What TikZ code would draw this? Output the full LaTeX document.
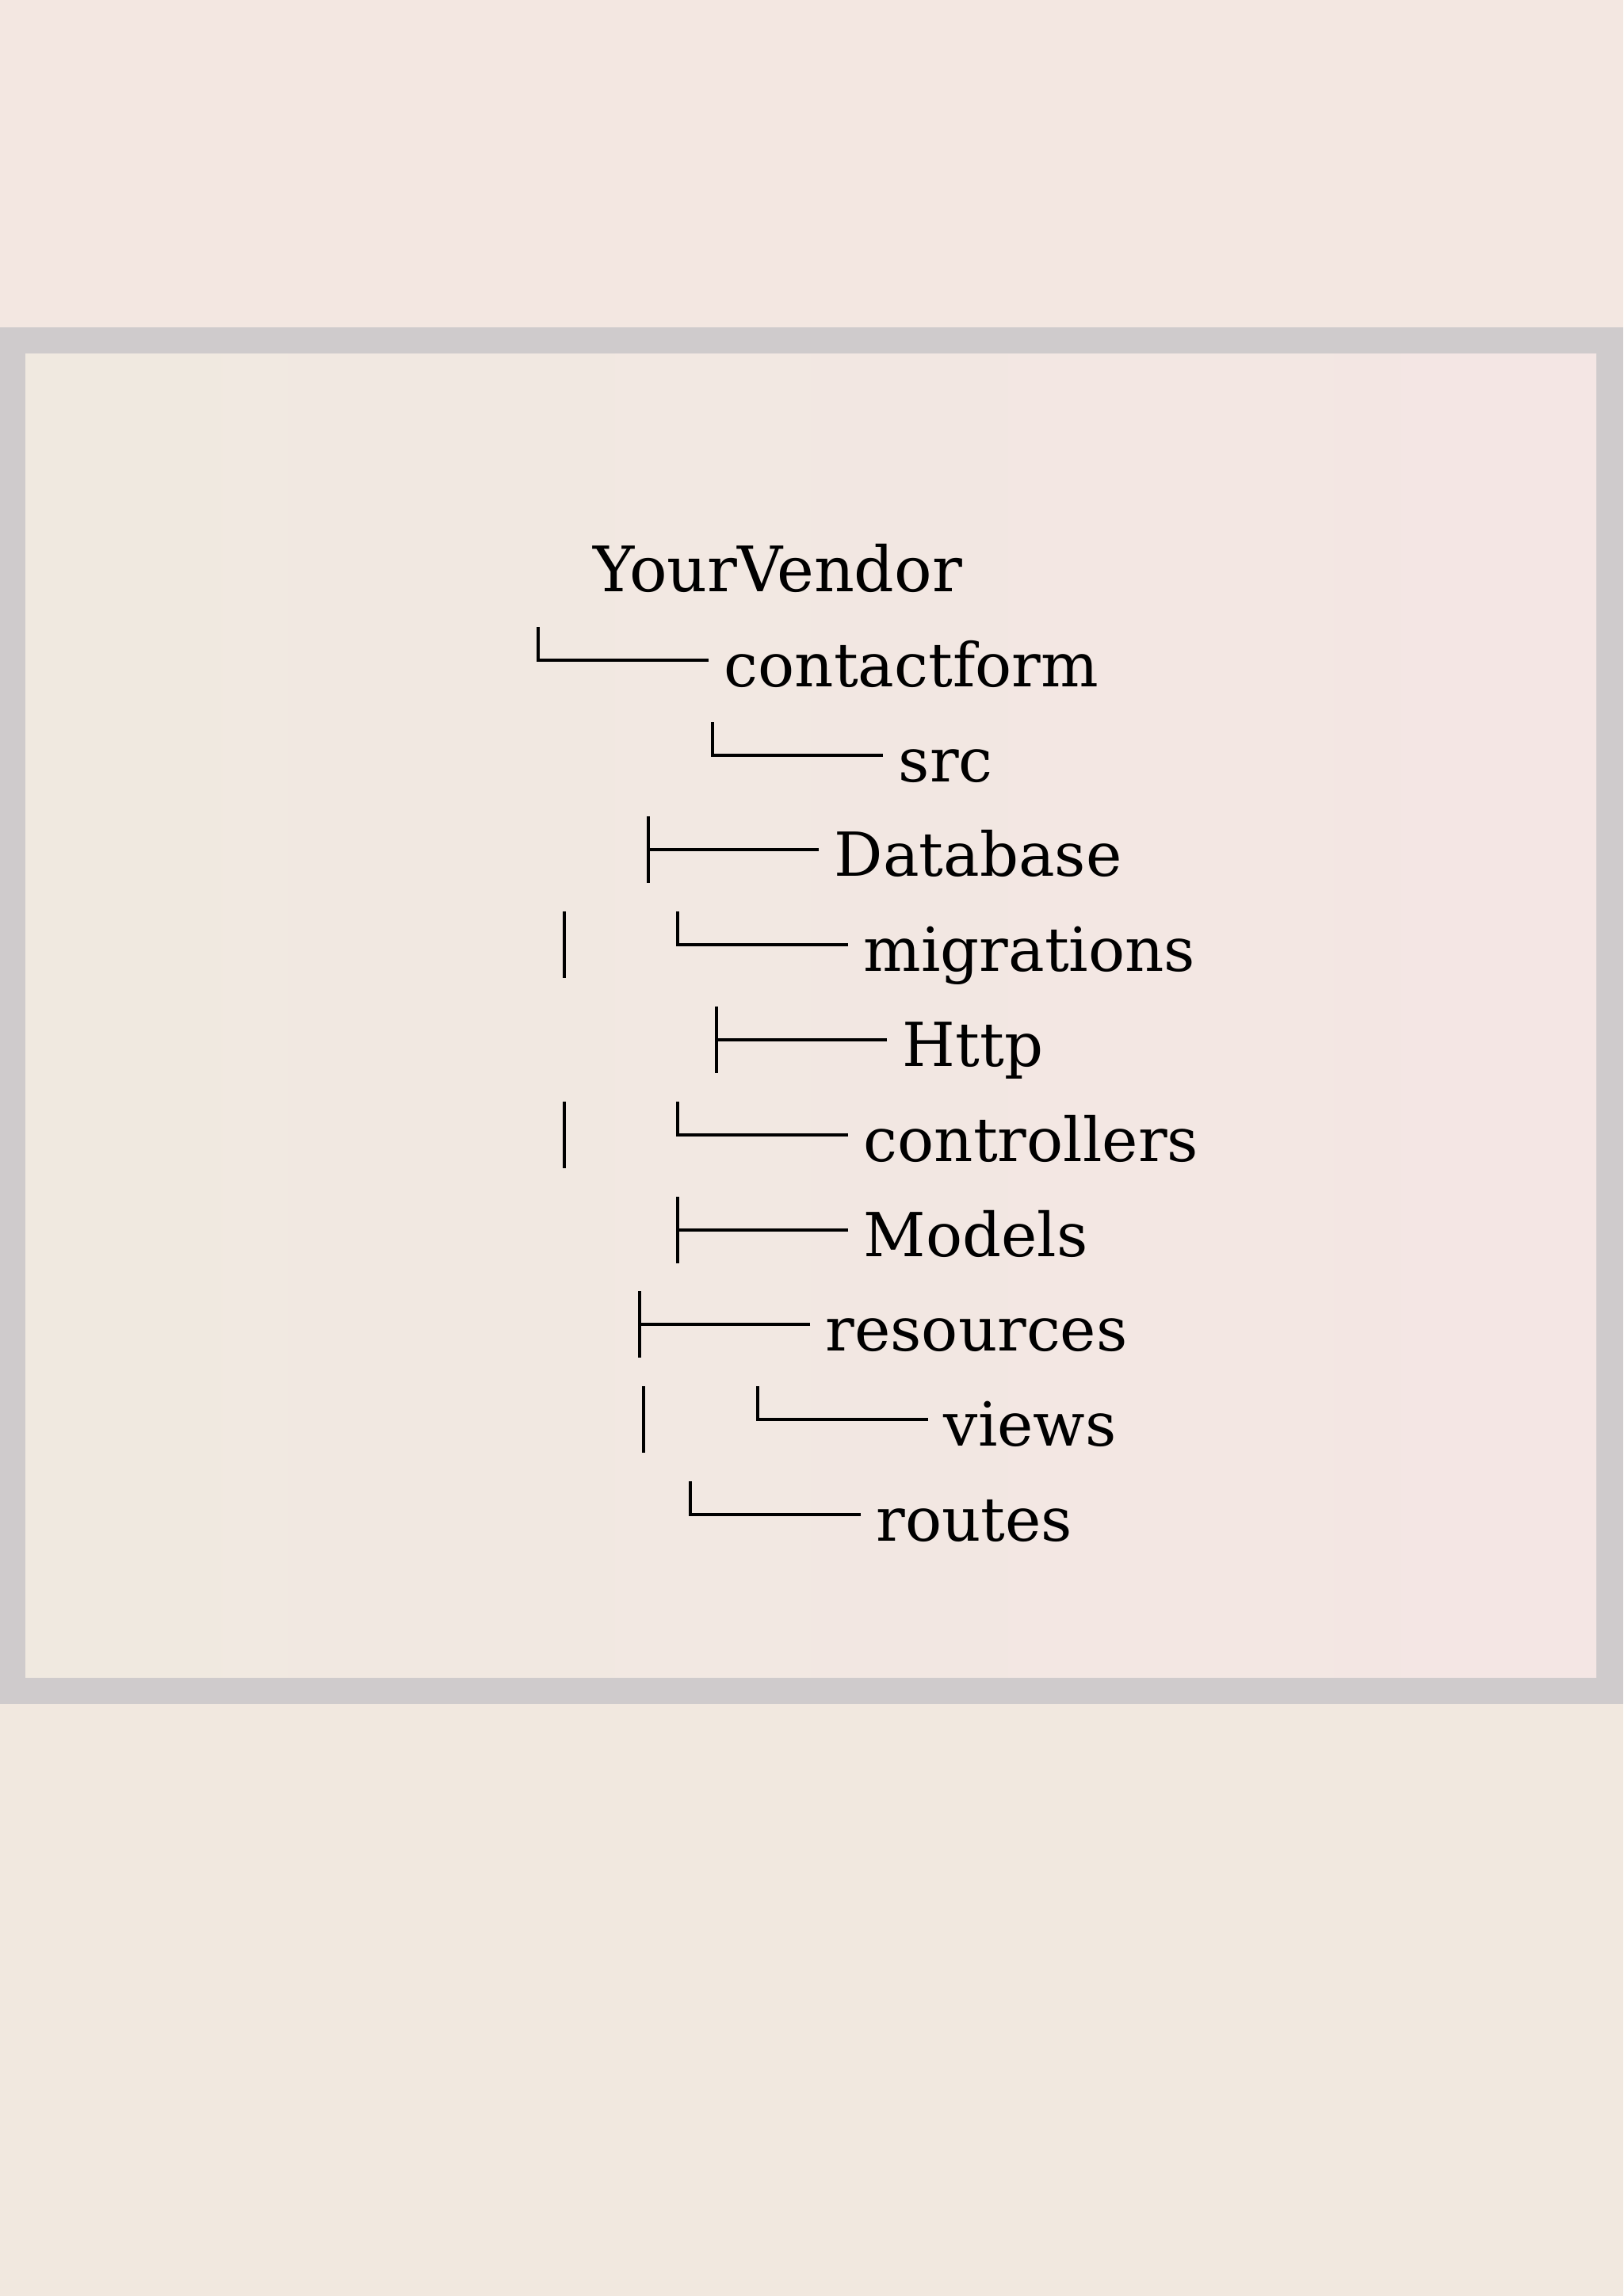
\documentclass[tikz,border=0pt]{standalone}
\usepackage{fontspec}
\setmainfont{DejaVu Serif}
\usepackage{tikz}

\definecolor{paper}{HTML}{F1E8DF}
\definecolor{paperpink}{HTML}{F3E7E1}
\definecolor{framegray}{HTML}{CFCBCC}
\definecolor{boxleft}{HTML}{F0E9E0}
\definecolor{boxright}{HTML}{F4E6E4}

\tikzset{
  tree/.style={black, line width=1pt},
  dir/.style={anchor=base west, inner sep=0pt, text height=0.76cm, text depth=0.1cm,
    font=\fontsize{21.8pt}{26pt}\selectfont}
}

\begin{document}
\begin{tikzpicture}
\useasboundingbox (0,0) rectangle (20.48,-28.97);
% page and frame
\fill [paper] (0,0) rectangle (20.48,-28.97);
\fill [paperpink] (0,0) rectangle (20.48,-4.13);
\fill [framegray] (0,-4.13) rectangle (20.48,-21.50);
\shade [left color=boxleft, right color=boxright] (0.32,-4.46) rectangle (20.14,-21.16);

% folders
\node [dir, font=\fontsize{22.5pt}{26pt}\selectfont] (vendor) at (7.48,-7.46) {YourVendor};
\node [dir] (contactform) at (9.13,-8.66) {contactform};
\node [dir] (src) at (11.33,-9.86) {src};
\node [dir] (database) at (10.52,-11.05) {Database};
\node [dir] (migrations) at (10.89,-12.25) {migrations};
\node [dir] (http) at (11.38,-13.45) {Http};
\node [dir] (controllers) at (10.89,-14.65) {controllers};
\node [dir] (models) at (10.89,-15.85) {Models};
\node [dir] (resources) at (10.41,-17.04) {resources};
\node [dir] (views) at (11.90,-18.24) {views};
\node [dir] (routes) at (11.05,-19.44) {routes};

% last child: corner
\draw [tree] ([xshift=-0.19cm]contactform.west) -| ++(-2.15,0.42);
\draw [tree] ([xshift=-0.19cm]src.west) -| ++(-2.15,0.42);
\draw [tree] ([xshift=-0.19cm]migrations.west) -| ++(-2.15,0.42);
\draw [tree] ([xshift=-0.19cm]controllers.west) -| ++(-2.15,0.42);
\draw [tree] ([xshift=-0.19cm]views.west) -| ++(-2.15,0.42);
\draw [tree] ([xshift=-0.19cm]routes.west) -| ++(-2.15,0.42);
% other children: tee
\draw [tree] ([xshift=-0.19cm]database.west) -- ++(-2.15,0) ++(0,0.42) -- ++(0,-0.84);
\draw [tree] ([xshift=-0.19cm]http.west) -- ++(-2.15,0) ++(0,0.42) -- ++(0,-0.84);
\draw [tree] ([xshift=-0.19cm]models.west) -- ++(-2.15,0) ++(0,0.42) -- ++(0,-0.84);
\draw [tree] ([xshift=-0.19cm]resources.west) -- ++(-2.15,0) ++(0,0.42) -- ++(0,-0.84);
% continuation bars
\draw [tree] ([xshift=-3.77cm]migrations.west) ++(0,0.42) -- ++(0,-0.84);
\draw [tree] ([xshift=-3.77cm]controllers.west) ++(0,0.42) -- ++(0,-0.84);
\draw [tree] ([xshift=-3.78cm]views.west) ++(0,0.42) -- ++(0,-0.84);
\end{tikzpicture}
\end{document}
